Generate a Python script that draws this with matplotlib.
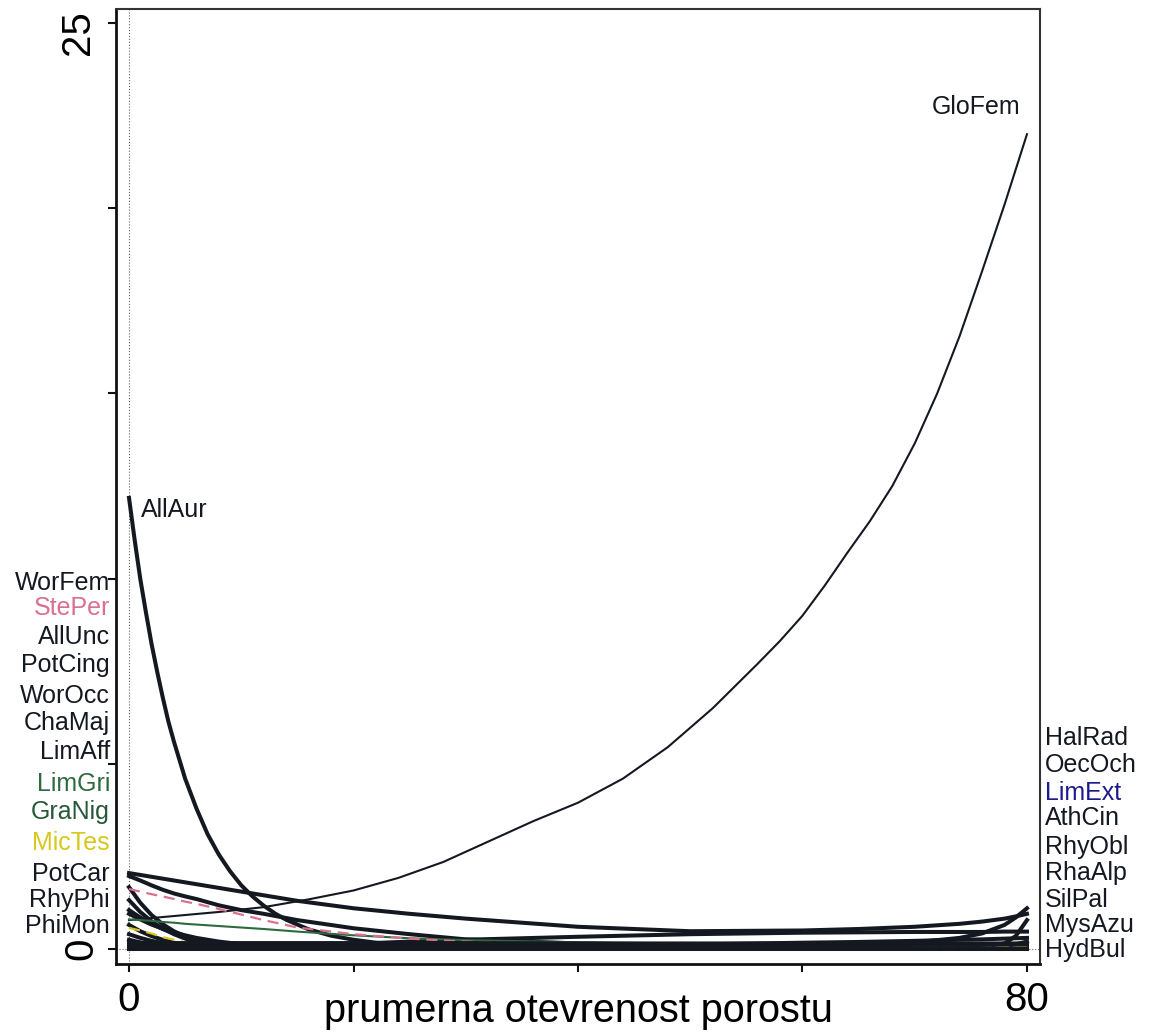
import matplotlib.pyplot as plt

plt.rcParams['font.family'] = ['Liberation Sans', 'DejaVu Sans']

X = [0, 1, 2, 3, 4, 5, 6, 8, 10, 12, 15, 20, 25, 30, 40, 50, 60, 65, 70, 74, 76, 78, 79, 80]
# denser readings for the two tall curves
X_GLO = [0, 4, 8, 12, 16, 20, 24, 28, 32, 36, 40, 44, 48, 52, 56, 58, 60, 62, 64, 66, 68,
         70, 72, 74, 76, 78, 80]
X_AUR = [0, 0.5, 1, 1.5, 2, 2.5, 3, 3.5, 4, 5, 6, 7, 8, 9, 10, 11, 12, 13, 14, 16, 18,
         20, 22, 24, 27, 30, 40, 80]

# fitted response curves (abundance vs. canopy openness)
glo_fem = [0.78, 0.89, 1.00, 1.13, 1.34, 1.58, 1.92, 2.35, 2.90, 3.45, 3.95, 4.60, 5.45,
           6.50, 7.70, 8.32, 9.00, 9.82, 10.7, 11.55, 12.5, 13.65, 15.0, 16.55, 18.3,
           20.1, 22.0]
all_aur = [12.18, 11.05, 10.0, 9.10, 8.25, 7.50, 6.80, 6.15, 5.60, 4.60, 3.80, 3.10,
           2.55, 2.10, 1.72, 1.42, 1.17, 0.96, 0.79, 0.53, 0.36, 0.25, 0.17, 0.11,
           0.06, 0.04, 0.02, 0.01]
pot_car = [2.05, 2.00, 1.95, 1.90, 1.85, 1.80, 1.75, 1.65, 1.55, 1.45, 1.30, 1.10,
           0.95, 0.82, 0.60, 0.48, 0.50, 0.54, 0.60, 0.68, 0.74, 0.82, 0.88, 0.95]
wor_fem = [1.97, 1.85, 1.72, 1.60, 1.50, 1.42, 1.35, 1.18, 1.05, 0.95, 0.78, 0.56,
           0.40, 0.26, 0.15, 0.10, 0.08, 0.08, 0.08, 0.08, 0.08, 0.08, 0.08, 0.08]
all_unc = [1.67, 1.25, 0.92, 0.67, 0.48, 0.34, 0.24, 0.12, 0.06, 0.03, 0.01, 0.01,
           0.01, 0.01, 0.01, 0.01, 0.01, 0.01, 0.01, 0.01, 0.01, 0.01, 0.01, 0.01]
rhy_phi = [1.32, 1.00, 0.75, 0.55, 0.40, 0.28, 0.20, 0.10, 0.05, 0.02, 0.01, 0.01,
           0.01, 0.01, 0.01, 0.01, 0.01, 0.01, 0.01, 0.01, 0.01, 0.01, 0.01, 0.01]
pot_cing = [1.05, 0.85, 0.68, 0.54, 0.43, 0.34, 0.27, 0.17, 0.11, 0.07, 0.04, 0.02,
            0.01, 0.01, 0.01, 0.01, 0.01, 0.01, 0.01, 0.01, 0.01, 0.01, 0.01, 0.01]
wor_occ = [0.95, 0.80, 0.66, 0.55, 0.45, 0.37, 0.30, 0.20, 0.13, 0.09, 0.05, 0.02,
           0.01, 0.01, 0.01, 0.01, 0.01, 0.01, 0.01, 0.01, 0.01, 0.01, 0.01, 0.01]
lim_aff = [0.65, 0.48, 0.35, 0.25, 0.17, 0.11, 0.07, 0.03, 0.01, 0.01, 0.01, 0.01,
           0.01, 0.01, 0.01, 0.01, 0.01, 0.01, 0.01, 0.01, 0.01, 0.01, 0.01, 0.01]
phi_mon = [0.40, 0.30, 0.22, 0.16, 0.11, 0.08, 0.05, 0.02, 0.01, 0.01, 0.01, 0.01,
           0.01, 0.01, 0.01, 0.01, 0.01, 0.01, 0.01, 0.01, 0.01, 0.01, 0.01, 0.01]
cha_maj = [0.25, 0.18, 0.13, 0.09, 0.06, 0.04, 0.03, 0.02, 0.01, 0.01, 0.01, 0.01,
           0.01, 0.01, 0.01, 0.01, 0.01, 0.01, 0.01, 0.01, 0.01, 0.01, 0.01, 0.01]
hal_rad = [0.02, 0.02, 0.02, 0.02, 0.02, 0.02, 0.02, 0.02, 0.02, 0.02, 0.02, 0.02,
           0.02, 0.02, 0.02, 0.03, 0.06, 0.10, 0.18, 0.30, 0.42, 0.65, 0.85, 1.10]
oec_och = [0.03, 0.03, 0.03, 0.03, 0.03, 0.03, 0.03, 0.03, 0.03, 0.03, 0.03, 0.03,
           0.03, 0.03, 0.03, 0.03, 0.03, 0.03, 0.03, 0.03, 0.05, 0.15, 0.35, 0.78]
ath_cin = [0.10, 0.10, 0.10, 0.10, 0.10, 0.10, 0.10, 0.11, 0.11, 0.12, 0.13, 0.14,
           0.20, 0.25, 0.33, 0.40, 0.44, 0.45, 0.46, 0.46, 0.46, 0.47, 0.47, 0.47]
rhy_obl = [0.05, 0.05, 0.05, 0.05, 0.05, 0.05, 0.05, 0.05, 0.05, 0.05, 0.05, 0.05,
           0.05, 0.05, 0.08, 0.12, 0.17, 0.19, 0.22, 0.25, 0.26, 0.28, 0.29, 0.30]
rha_alp = [0.02, 0.02, 0.02, 0.02, 0.02, 0.02, 0.02, 0.02, 0.02, 0.02, 0.02, 0.02,
           0.02, 0.02, 0.02, 0.02, 0.02, 0.02, 0.02, 0.03, 0.05, 0.09, 0.13, 0.20]
sil_pal = [0.09, 0.09, 0.09, 0.09, 0.09, 0.09, 0.09, 0.09, 0.09, 0.09, 0.09, 0.09,
           0.09, 0.09, 0.09, 0.09, 0.10, 0.10, 0.11, 0.11, 0.11, 0.12, 0.12, 0.12]
mys_azu = [0.16, 0.16, 0.16, 0.16, 0.16, 0.16, 0.16, 0.16, 0.16, 0.16, 0.16, 0.16,
           0.16, 0.16, 0.15, 0.15, 0.15, 0.15, 0.15, 0.15, 0.15, 0.15, 0.15, 0.15]
hyd_bul = [0.00, 0.00, 0.00, 0.00, 0.00, 0.00, 0.00, 0.00, 0.00, 0.00, 0.00, 0.00,
           0.00, 0.00, 0.00, 0.00, 0.00, 0.00, 0.00, 0.00, 0.00, 0.00, 0.00, 0.00]
lim_ext = [0.04, 0.04, 0.04, 0.04, 0.04, 0.04, 0.04, 0.04, 0.04, 0.04, 0.04, 0.04,
           0.04, 0.04, 0.04, 0.04, 0.04, 0.04, 0.04, 0.04, 0.04, 0.04, 0.04, 0.04]
ste_per = [1.62, 1.55, 1.48, 1.42, 1.35, 1.28, 1.22, 1.08, 0.93, 0.78, 0.58, 0.40,
           0.28, 0.20, 0.09, 0.05, 0.05, 0.05, 0.05, 0.05, 0.05, 0.05, 0.05, 0.05]
lim_gri = [0.80, 0.78, 0.76, 0.73, 0.71, 0.68, 0.66, 0.62, 0.58, 0.54, 0.47, 0.37,
           0.29, 0.24, 0.18, 0.15, 0.10, 0.08, 0.06, 0.05, 0.05, 0.04, 0.04, 0.04]
gra_nig = [0.14, 0.13, 0.12, 0.11, 0.10, 0.09, 0.08, 0.07, 0.06, 0.05, 0.04, 0.03,
           0.02, 0.02, 0.02, 0.02, 0.02, 0.02, 0.02, 0.02, 0.02, 0.02, 0.02, 0.02]
mic_tes = [0.57, 0.50, 0.42, 0.32, 0.25, 0.18, 0.12, 0.06, 0.05, 0.05, 0.05, 0.05,
           0.05, 0.05, 0.05, 0.05, 0.05, 0.05, 0.05, 0.05, 0.05, 0.05, 0.05, 0.05]

# species labels along both sides
left_names = ['WorFem', 'StePer', 'AllUnc', 'PotCing', 'WorOcc', 'ChaMaj', 'LimAff',
              'LimGri', 'GraNig', 'MicTes', 'PotCar', 'RhyPhi', 'PhiMon']
left_y = [9.88, 9.21, 8.42, 7.67, 6.83, 6.10, 5.32, 4.46, 3.70, 2.86, 2.02, 1.32, 0.62]
right_names = ['HalRad', 'OecOch', 'LimExt', 'AthCin', 'RhyObl', 'RhaAlp', 'SilPal',
               'MysAzu', 'HydBul']
right_y = [5.70, 4.97, 4.21, 3.54, 2.75, 2.05, 1.32, 0.65, -0.03]

BLACK = '#141821'
PINK = '#d9708f'
GREEN1 = '#2d6a3e'
GREEN2 = '#27583a'
YELLOW = '#d6c81e'
BLUE = '#1c1a8c'
label_colors = {'StePer': PINK, 'LimGri': GREEN1, 'GraNig': GREEN2,
                'MicTes': YELLOW, 'LimExt': BLUE}

fig = plt.figure(figsize=(11.52, 10.32), dpi=100)
ax = fig.add_axes([116 / 1152, 1 - 964 / 1032, (1040 - 116) / 1152, (964 - 9) / 1032])
ax.set_xlim(-1.16, 81.16)
ax.set_ylim(-0.405, 25.38)

ax.axvline(0, color='#666666', lw=0.8, ls=':', zorder=1)
ax.axhline(0, color='#666666', lw=0.8, ls=':', zorder=1)

# curves with a clear shape
ax.plot(X_AUR, all_aur, color=BLACK, lw=2.9, zorder=2)
for ys in [pot_car, wor_fem, all_unc, rhy_phi, pot_cing, wor_occ, lim_aff, phi_mon,
           cha_maj, hal_rad, oec_och, ath_cin, rhy_obl, rha_alp]:
    ax.plot(X, ys, color=BLACK, lw=2.9, zorder=2)
ax.plot(X, lim_ext, color=BLUE, lw=2.9, zorder=1.5)
ax.plot(X, gra_nig, color=GREEN2, lw=1.5, zorder=3)
ax.plot(X_GLO, glo_fem, color=BLACK, lw=1.5, zorder=3)
ax.plot(X, lim_gri, color=GREEN1, lw=1.5, zorder=3)
ax.plot(X, ste_per, color=PINK, lw=1.6, ls=(0, (5, 3)), zorder=3)
ax.plot(X, mic_tes, color=YELLOW, lw=1.6, ls=(0, (5, 3)), zorder=3)
# dense band of near-zero curves on top
for ys in [sil_pal, mys_azu, hyd_bul]:
    ax.plot(X, ys, color=BLACK, lw=2.9, zorder=4)

for name, y in zip(left_names, left_y):
    ax.text(-1.69, y, name, ha='right', va='center', fontsize=18,
            color=label_colors.get(name, BLACK), clip_on=False)
for name, y in zip(right_names, right_y):
    ax.text(81.6, y, name, ha='left', va='center', fontsize=18,
            color=label_colors.get(name, BLACK), clip_on=False)
ax.text(79.4, 22.73, 'GloFem', ha='right', va='center', fontsize=18, color=BLACK)
ax.text(1.07, 11.85, 'AllAur', ha='left', va='center', fontsize=18, color=BLACK)

ax.set_xticks([0, 20, 40, 60, 80])
ax.set_xticklabels(['0', '', '', '', '80'])
ax.set_yticks([0, 5, 10, 15, 20, 25])
ax.set_yticklabels(['0', '', '', '', '', ''], rotation=90, va='center')
ax.tick_params(direction='out', length=5.5, width=1.5, labelsize=29, color='#111111')
ax.tick_params(axis='x', pad=7)
ax.tick_params(axis='y', pad=6)
# top y label sits a little below its tick in the original
ax.annotate('25', xy=(0, 25), xycoords=('axes fraction', 'data'), xytext=(-19, -10),
            textcoords='offset pixels', rotation=90, ha='right', va='center',
            fontsize=29, annotation_clip=False)

for side in ['left', 'bottom']:
    ax.spines[side].set_linewidth(2)
    ax.spines[side].set_color('#111111')
for side in ['top', 'right']:
    ax.spines[side].set_linewidth(1.5)
    ax.spines[side].set_color('#333333')

fig.text(0.5017, 1 - 1022 / 1032, 'prumerna otevrenost porostu', ha='center',
         va='baseline', fontsize=28.5)

fig.savefig('out.png', dpi=100)
